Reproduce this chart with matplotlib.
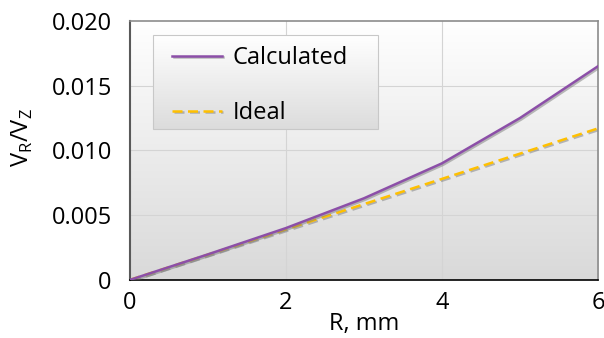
import numpy as np
import matplotlib
matplotlib.use("Agg")
import matplotlib.pyplot as plt
import matplotlib.patheffects as pe
from matplotlib.patches import Rectangle

plt.rcParams['font.family'] = ['Open Sans', 'DejaVu Sans']

# data
r_mm = [0, 1, 2, 3, 4, 5, 6]
calculated = [0, 0.00197, 0.0040, 0.0063, 0.0090, 0.0125, 0.0165]
ideal = [0, 0.00195, 0.0039, 0.00585, 0.0078, 0.00975, 0.0117]

fig = plt.figure(figsize=(6.04, 3.38), dpi=100)
ax = fig.add_axes([0.215, 0.172, 0.775, 0.766])

# gradient background (white top -> grey bottom)
grad = np.linspace(0, 1, 256).reshape(-1, 1)
ax.imshow(grad, cmap=matplotlib.colors.LinearSegmentedColormap.from_list(
    'bg', ['#ffffff', '#d9d9d9']), aspect='auto', extent=[0, 1, 0, 1],
    transform=ax.transAxes, zorder=-1)

shadow = [pe.SimpleLineShadow(offset=(1.0, -1.0), shadow_color='#7a7a7a', alpha=0.5),
          pe.Normal()]
ax.plot(r_mm, calculated, color='#8c4fa8', lw=1.8, label='Calculated',
        path_effects=shadow, zorder=3)
ax.plot(r_mm, ideal, color='#ffc000', lw=1.8, dashes=(4, 2.2), label='Ideal',
        path_effects=shadow, zorder=2)

ax.set_xlim(0, 6)
ax.set_ylim(0, 0.020)
ax.set_xticks([0, 2, 4, 6])
ax.set_yticks([0, 0.005, 0.010, 0.015, 0.020])
ax.set_yticklabels(['0', '0.005', '0.010', '0.015', '0.020'])
for y in [0.005, 0.010, 0.015]:
    ax.axhline(y, color='#d4d4d4', lw=0.8, zorder=1)
for x in [2, 4]:
    ax.axvline(x, color='#d4d4d4', lw=0.8, zorder=1)
ax.tick_params(length=0, labelsize=17, colors='black')
ax.tick_params(axis='y', pad=13)
ax.tick_params(axis='x', pad=8)

ax.spines['left'].set_color('#595959')
ax.spines['left'].set_linewidth(1.5)
ax.spines['bottom'].set_color('black')
ax.spines['bottom'].set_linewidth(1.2)
for s in ('top', 'right'):
    ax.spines[s].set_color('#8c8c8c')
    ax.spines[s].set_linewidth(1.2)

ax.set_xlabel('R, mm', fontsize=17, labelpad=-2)
ax.set_ylabel(r'V$_\mathregular{R}$/V$_\mathregular{Z}$', fontsize=17)
ax.yaxis.set_label_coords(-0.203, 0.55)

# legend box with gradient
lx0, lx1, ly0, ly1 = 0.049, 0.530, 0.583, 0.946
ax.imshow(grad, cmap=matplotlib.colors.LinearSegmentedColormap.from_list(
    'lg', ['#ffffff', '#dcdcdc']), aspect='auto', extent=[lx0, lx1, ly0, ly1],
    transform=ax.transAxes, zorder=4)
ax.add_patch(Rectangle((lx0, ly0), lx1 - lx0, ly1 - ly0, transform=ax.transAxes,
                       fill=False, edgecolor='#c8c8c8', lw=0.8, zorder=5))
leg = ax.legend(loc='upper left', bbox_to_anchor=(0.045, 0.985), frameon=False,
                fontsize=17, handlelength=2.1, handletextpad=0.45, labelspacing=1.3)
leg.set_zorder(6)

fig.savefig('out.png', dpi=100)
